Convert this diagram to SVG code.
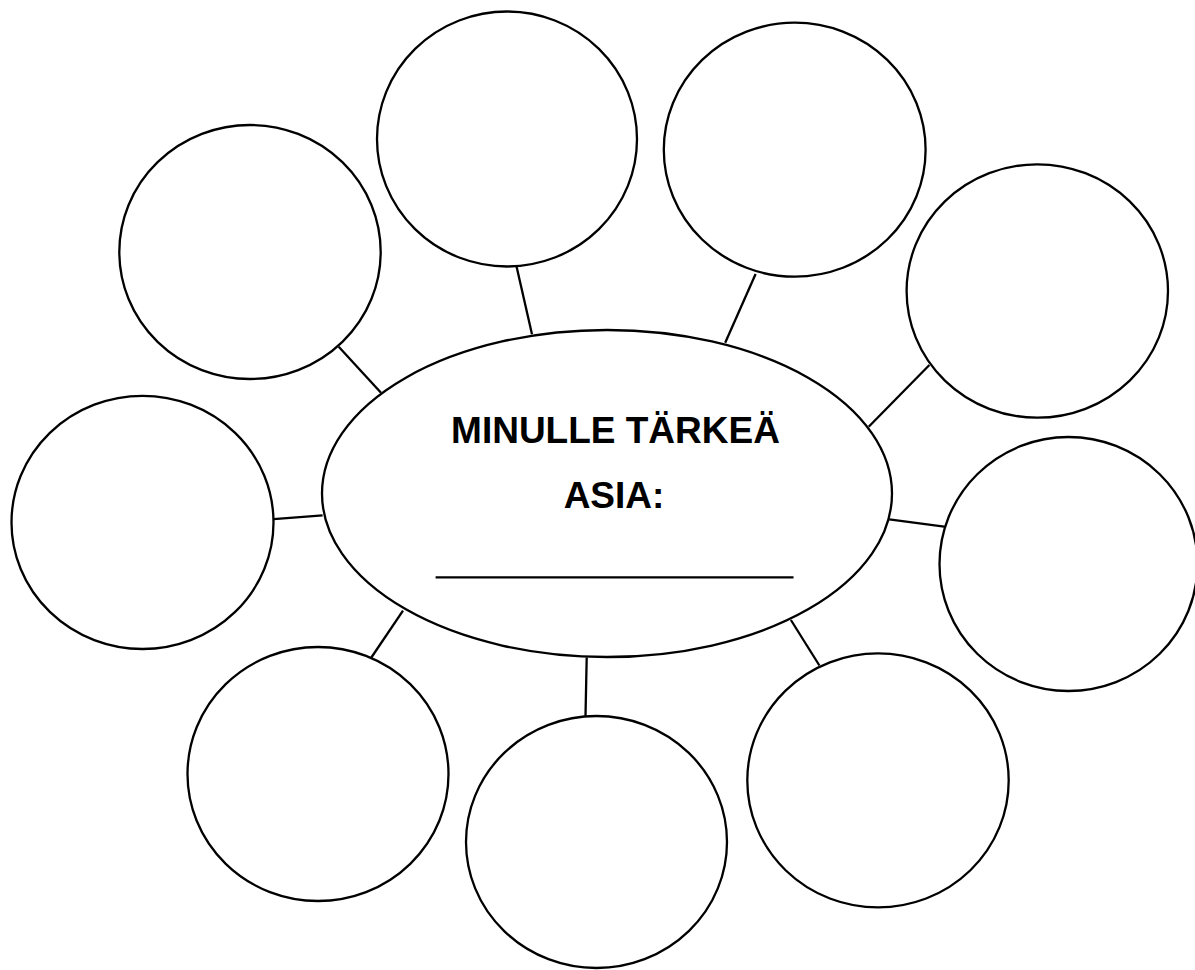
<svg xmlns="http://www.w3.org/2000/svg" width="1195" height="970" viewBox="0 0 1195 970">
<style>
.node{fill:#fff;stroke:#000;stroke-width:2.3}
.conn line{stroke:#000;stroke-width:2.3}
.lbl{font-family:"Liberation Sans",Arial,sans-serif;font-weight:bold;font-size:37px;fill:#000;text-anchor:middle}
</style>
<rect width="1195" height="970" fill="#fff"/>
<g class="conn" id="connectors">
<line x1="338.7" y1="346.7" x2="381" y2="392.7"/>
<line x1="516.6" y1="266.7" x2="532" y2="334.3"/>
<line x1="755.6" y1="274" x2="725.2" y2="342.7"/>
<line x1="929.4" y1="365" x2="868.7" y2="426.7"/>
<line x1="889.2" y1="519.3" x2="949.9" y2="527.3"/>
<line x1="790.9" y1="620" x2="819.4" y2="665.5"/>
<line x1="586.7" y1="657.5" x2="585.5" y2="716"/>
<line x1="403" y1="610.6" x2="370" y2="659.5"/>
<line x1="273.6" y1="519.2" x2="322.6" y2="515.4"/>
</g>
<g id="n-top-left"><ellipse class="node" cx="250" cy="252" rx="130.7" ry="127"/></g>
<g id="n-top-center-left"><ellipse class="node" cx="507" cy="139" rx="130" ry="127.5"/></g>
<g id="n-top-center-right"><ellipse class="node" cx="794.7" cy="149.7" rx="130.9" ry="127"/></g>
<g id="n-right-top"><ellipse class="node" cx="1037.3" cy="291" rx="130.7" ry="126.7"/></g>
<g id="n-right"><ellipse class="node" cx="1068.5" cy="564" rx="129" ry="127"/></g>
<g id="n-bottom-right"><ellipse class="node" cx="878" cy="780.4" rx="130.7" ry="127"/></g>
<g id="n-bottom-center"><ellipse class="node" cx="596.5" cy="842" rx="130.5" ry="126"/></g>
<g id="n-bottom-left"><ellipse class="node" cx="318" cy="774" rx="130.5" ry="127"/></g>
<g id="n-left"><ellipse class="node" cx="142.5" cy="522.4" rx="131" ry="126.6"/></g>
<g id="n-center">
<ellipse class="node" cx="607" cy="493.5" rx="285" ry="163.5"/>
<text class="lbl" x="615.5" y="443">MINULLE TÄRKEÄ</text>
<text class="lbl" x="614" y="508">ASIA:</text>
<line x1="435.6" y1="577.3" x2="793.5" y2="577.3" stroke="#000" stroke-width="2.2"/>
</g>
</svg>
